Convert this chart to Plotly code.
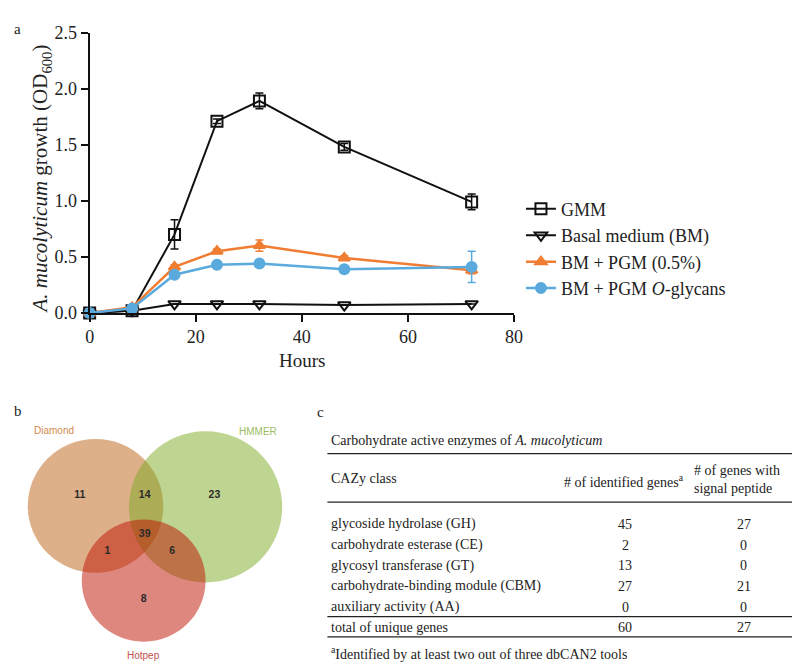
import plotly.graph_objects as go

# ---------------- data ----------------
hours = [0, 8, 16, 24, 32, 48, 72]
gmm = [0.00, 0.02, 0.70, 1.71, 1.89, 1.48, 0.99]
gmm_err = [0.01, 0.01, 0.13, 0.02, 0.07, 0.03, 0.07]
bm = [0.00, 0.02, 0.08, 0.08, 0.08, 0.07, 0.08]
bm_err = [0.0, 0.0, 0.0, 0.0, 0.0, 0.0, 0.0]
bm_pgm = [0.00, 0.05, 0.41, 0.55, 0.60, 0.49, 0.38]
bm_pgm_err = [0.0, 0.0, 0.02, 0.02, 0.05, 0.02, 0.03]
bm_oglycans = [0.00, 0.04, 0.34, 0.43, 0.44, 0.39, 0.41]
bm_oglycans_err = [0.0, 0.0, 0.02, 0.01, 0.01, 0.01, 0.14]

x_ticks = [0, 20, 40, 60, 80]
y_ticks = [0.0, 0.5, 1.0, 1.5, 2.0, 2.5]

venn_sets = ["Diamond", "HMMER", "Hotpep"]
venn_regions = ["Diamond only", "Diamond & HMMER", "HMMER only", "all three",
                "Diamond & Hotpep", "HMMER & Hotpep", "Hotpep only"]
venn_counts = [11, 14, 23, 39, 1, 6, 8]

cazy_classes = ["glycoside hydrolase (GH)", "carbohydrate esterase (CE)",
                "glycosyl transferase (GT)", "carbohydrate-binding module (CBM)",
                "auxiliary activity (AA)"]
identified_genes = [45, 2, 13, 27, 0]
signal_peptide_genes = [27, 0, 0, 21, 0]
total_label = "total of unique genes"
total_identified = 60
total_signal = 27

# ---------------- helpers ----------------
W, H = 800, 668
def PX(x): return x / W
def PY(y): return 1 - y / H

SERIF = "Liberation Serif"
SANS = "Liberation Sans"
TXT = "#222222"

fig = go.Figure()

def add_series(name, y, err, color, symbol, msize, lw):
    fig.add_trace(go.Scatter(
        x=hours, y=y, name=name, mode="lines+markers",
        line=dict(color=color, width=lw),
        marker=dict(symbol=symbol, size=msize, color=color,
                    line=dict(color=color, width=2)),
        error_y=dict(type="data", array=err, visible=True, color=color,
                     thickness=1.5, width=4),
        cliponaxis=False,
    ))

add_series("GMM", gmm, gmm_err, "#111111", "square-open", 11, 2)
add_series("Basal medium (BM)", bm, bm_err, "#111111", "triangle-down-open", 11, 2)
add_series("BM + PGM (0.5%)", bm_pgm, bm_pgm_err, "#F07D32", "triangle-up", 10, 2.5)
add_series("BM + PGM <i>O</i>-glycans", bm_oglycans, bm_oglycans_err, "#5AAADE", "circle", 10, 2.5)

fig.update_layout(
    width=W, height=H,
    margin=dict(l=0, r=0, t=0, b=0),
    paper_bgcolor="white", plot_bgcolor="white",
    font=dict(family=SERIF, color=TXT),
    showlegend=True,
    legend=dict(x=PX(517), y=PY(178), xanchor="left", yanchor="top",
                font=dict(family=SERIF, size=18, color=TXT),
                bgcolor="rgba(0,0,0,0)", itemwidth=30, tracegroupgap=0),
    xaxis=dict(domain=[PX(78), PX(510)], range=[0, 80], tickvals=x_ticks,
               showline=True, linecolor="#111111", linewidth=2,
               ticks="outside", ticklen=7, tickwidth=2, tickcolor="#111111",
               showgrid=False, zeroline=False,
               tickfont=dict(family=SERIF, size=18, color=TXT),
               anchor="y"),
    yaxis=dict(domain=[PY(304), PY(15)], range=[0, 2.5], tickvals=y_ticks,
               tickformat=".1f",
               showline=True, linecolor="#111111", linewidth=2,
               ticks="outside", ticklen=7, tickwidth=2, tickcolor="#111111",
               showgrid=False, zeroline=False,
               tickfont=dict(family=SERIF, size=18, color=TXT),
               anchor="x"),
    xaxis2=dict(domain=[0, PX(300)], range=[0, 300], visible=False, anchor="y2",
                fixedrange=True),
    yaxis2=dict(domain=[0, PY(400)], range=[668, 400], visible=False, anchor="x2",
                fixedrange=True),
)

annotations = []
def ann(x, y, text, font, xanchor="center", yanchor="middle", **kw):
    d = dict(x=PX(x), y=PY(y), xref="paper", yref="paper", text=text,
             showarrow=False, font=font, xanchor=xanchor, yanchor=yanchor)
    d.update(kw)
    annotations.append(d)

# axis titles
ann(294, 353, "Hours", dict(family=SERIF, size=19, color=TXT))
ann(29, 166, "<i>A. mucolyticum</i> growth (OD<sub>600</sub>)",
    dict(family=SERIF, size=21, color=TXT), textangle=-90)
# panel letters
for letter, xx, yy in [("a", 5, 11), ("b", 5, 405), ("c", 313, 406)]:
    ann(xx, yy, letter, dict(family=SERIF, size=15, color=TXT))

# ---------------- Venn (panel b) ----------------
circle_geom = {"Diamond": (84, 503, 69), "HMMER": (196, 504, 78), "Hotpep": (133, 580, 63)}
circle_fill = {"Diamond": "#BD6115", "HMMER": "#7DA923", "Hotpep": "#BD0F00"}
label_col = {"Diamond": "#D08A4E", "HMMER": "#9BBB5F", "Hotpep": "#C0504D"}
label_pos = {"Diamond": (42, 425), "HMMER": (249, 426), "Hotpep": (133, 657)}
shapes = []
for s in venn_sets:
    cx, cy, r = circle_geom[s]
    shapes.append(dict(type="circle", xref="x2", yref="y2",
                       x0=cx - r, x1=cx + r, y0=cy - r, y1=cy + r,
                       fillcolor=circle_fill[s], opacity=0.5,
                       line=dict(width=0), layer="below"))
    lx, ly = label_pos[s]
    annotations.append(dict(x=lx, y=ly, xref="x2", yref="y2", text=s,
                            showarrow=False, xanchor="center", yanchor="middle",
                            font=dict(family=SANS, size=10, color=label_col[s])))

region_pos = [(68, 492), (134, 492), (205, 492), (134, 532), (96, 550), (162, 550), (133, 599)]
fig.add_trace(go.Scatter(
    x=[p[0] for p in region_pos], y=[p[1] for p in region_pos],
    xaxis="x2", yaxis="y2", mode="text",
    text=["<b>%d</b>" % c for c in venn_counts],
    textposition="middle center",
    textfont=dict(family=SANS, size=10.5, color="#2a2a2a"),
    showlegend=False, hoverinfo="skip",
))

# ---------------- Table (panel c) ----------------
TL, TR = 320, 800
def rule(y, w=1.3):
    shapes.append(dict(type="line", xref="paper", yref="paper",
                       x0=PX(TL), x1=PX(TR), y0=PY(y), y1=PY(y),
                       line=dict(color="#222222", width=w)))
rule(449); rule(499); rule(617); rule(638)

TFONT = dict(family=SERIF, size=14, color=TXT)
ann(322, 436, "Carbohydrate active enzymes of <i>A. mucolyticum</i>", TFONT, xanchor="left")
ann(322, 475, "CAZy class", TFONT, xanchor="left")
ann(622, 477, "# of identified genes<sup>a</sup>", TFONT)
ann(691, 476, "# of genes with<br>signal peptide", TFONT, xanchor="left", align="left")

col1_x, col2_x, col3_x = 322, 623, 744
row_y0, row_dy = 522, 21.3
for i, (c, n1, n2) in enumerate(zip(cazy_classes, identified_genes, signal_peptide_genes)):
    yy = row_y0 + i * row_dy
    ann(col1_x, yy, c, TFONT, xanchor="left")
    ann(col2_x, yy, str(n1), TFONT)
    ann(col3_x, yy, str(n2), TFONT)
yt = 628
ann(col1_x, yt, total_label, TFONT, xanchor="left")
ann(col2_x, yt, str(total_identified), TFONT)
ann(col3_x, yt, str(total_signal), TFONT)
ann(322, 655, "<sup>a</sup>Identified by at least two out of three dbCAN2 tools", TFONT, xanchor="left")

fig.update_layout(annotations=annotations, shapes=shapes)
fig.write_html("out.html")
